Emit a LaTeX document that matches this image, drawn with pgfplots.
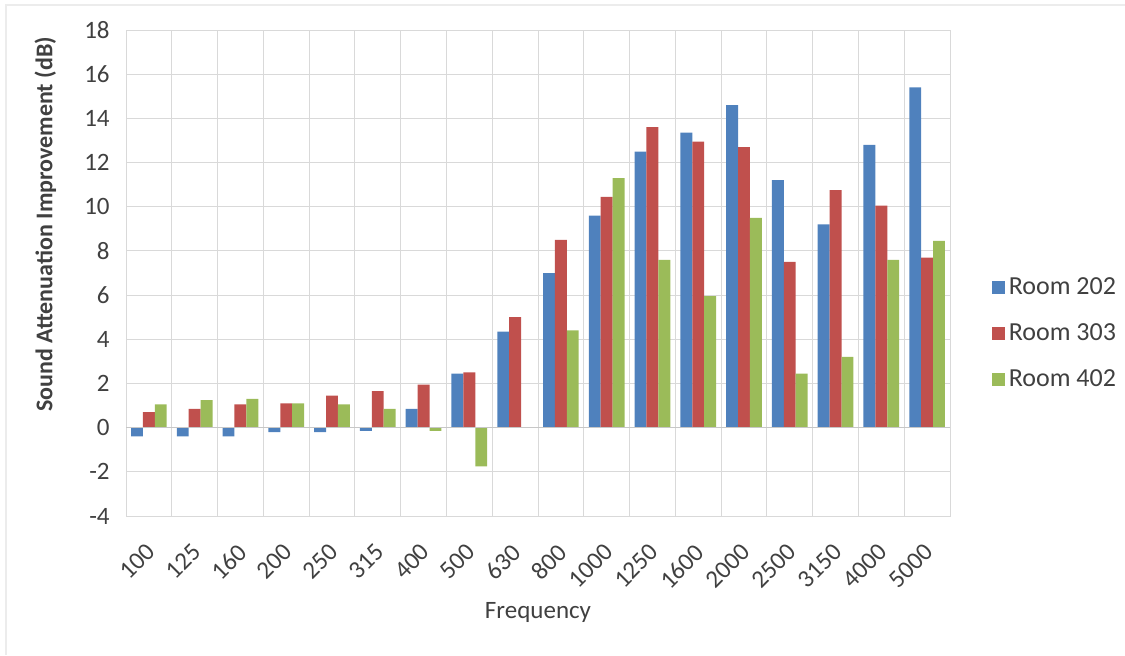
\documentclass[border=0pt]{standalone}
\usepackage{pgfplots}
\pgfplotsset{compat=1.18}
\usepackage{fontspec}
\setmainfont{Carlito}
\definecolor{c202}{HTML}{4F81BD}
\definecolor{c303}{HTML}{C0504D}
\definecolor{c402}{HTML}{9BBB59}
\definecolor{gridc}{HTML}{D9D9D9}
\definecolor{txt}{HTML}{404040}
\begin{document}
\begin{tikzpicture}
\path[use as bounding box] (0pt,0pt) rectangle (562.5pt,327.5pt);
\draw[gray!15, line width=0.8pt] (3pt,0pt) -- (3pt,325pt) -- (562.5pt,325pt);
\begin{axis}[
  at={(63pt,69.5pt)}, anchor=south west,
  scale only axis, width=412pt, height=243pt,
  ybar=0pt, bar width=0.26,
  xmin=-0.5, xmax=17.5, ymin=-4, ymax=18,
  ytick={-4,-2,0,2,4,6,8,10,12,14,16,18},
  xtick={0,1,2,3,4,5,6,7,8,9,10,11,12,13,14,15,16,17},
  xticklabels={100,125,160,200,250,315,400,500,630,800,1000,1250,1600,2000,2500,3150,4000,5000},
  minor xtick={-0.5,0.5,1.5,2.5,3.5,4.5,5.5,6.5,7.5,8.5,9.5,10.5,11.5,12.5,13.5,14.5,15.5,16.5,17.5},
  xminorgrids=true, ymajorgrids=true,
  grid style={gridc, line width=0.5pt},
  minor grid style={gridc, line width=0.5pt},
  axis line style={gridc, line width=0.5pt},
  major tick length=0pt, minor tick length=0pt,
  /pgf/number format/assume math mode=true,
  tick label style={font=\fontsize{12.5}{14}\selectfont, text=txt},
  xticklabel style={xshift=1pt, yshift=-16pt, rotate=45, anchor=east, inner sep=0pt},
  yticklabel style={xshift=-8pt, inner sep=0pt},
  xlabel={Frequency},
  xlabel style={at={(axis description cs:0.5,-0.198)}, anchor=center, font=\fontsize{12.5}{14}\selectfont, text=txt},
  ylabel={Sound Attenuation Improvement (dB)},
  ylabel style={at={(axis description cs:-0.098,0.6)}, anchor=center, font=\bfseries\fontsize{12}{14}\selectfont, text=txt},
  legend style={at={(axis description cs:1.05,0.375)}, anchor=west, draw=none, fill=none, inner sep=0pt,
    font=\fontsize{13}{15}\selectfont, text=txt, row sep=9pt},
  legend cell align=left,
  legend image code/.code={\fill[#1] (0pt,-3.3pt) rectangle (6.6pt,3.3pt);},
  clip=false,
]
\addplot[fill=c202, draw=none] coordinates {
(0,-0.4) (1,-0.4) (2,-0.4) (3,-0.2) (4,-0.2) (5,-0.15) (6,0.85) (7,2.45) (8,4.35)
(9,7.0) (10,9.6) (11,12.5) (12,13.35) (13,14.6) (14,11.2) (15,9.2) (16,12.8) (17,15.4)};
\addplot[fill=c303, draw=none] coordinates {
(0,0.7) (1,0.85) (2,1.05) (3,1.1) (4,1.45) (5,1.65) (6,1.95) (7,2.5) (8,5.0)
(9,8.5) (10,10.45) (11,13.6) (12,12.95) (13,12.7) (14,7.5) (15,10.75) (16,10.05) (17,7.7)};
\addplot[fill=c402, draw=none] coordinates {
(0,1.05) (1,1.25) (2,1.3) (3,1.1) (4,1.05) (5,0.85) (6,-0.15) (7,-1.75) (8,0)
(9,4.4) (10,11.3) (11,7.6) (12,5.95) (13,9.5) (14,2.45) (15,3.2) (16,7.6) (17,8.45)};
\legend{Room 202, Room 303, Room 402}
\draw[gridc!80!gray, line width=0.7pt] (axis cs:-0.5,0) -- (axis cs:17.5,0);
\end{axis}
\end{tikzpicture}
\end{document}
